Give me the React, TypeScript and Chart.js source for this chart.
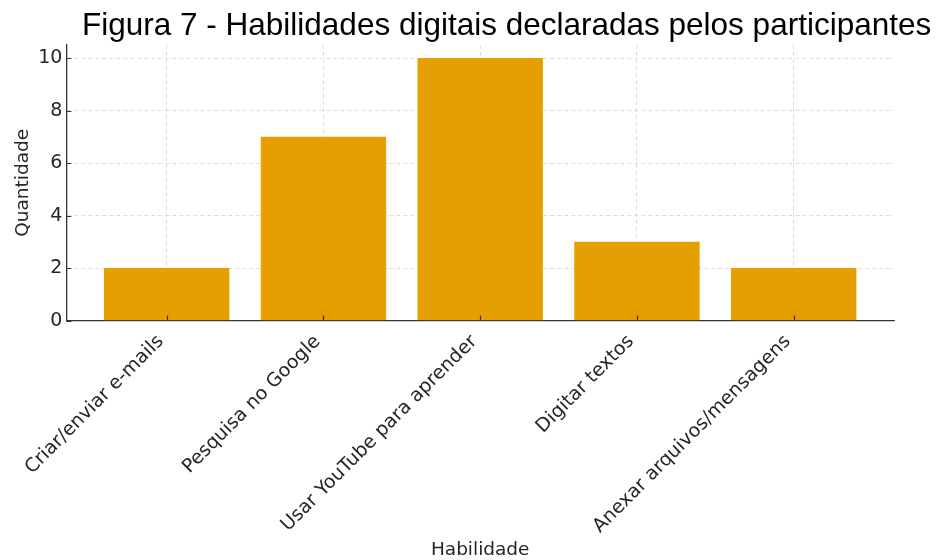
import React, { useEffect, useRef } from "react";
import { Chart, registerables } from "chart.js";

Chart.register(...registerables);

const titleText = "Figura 7 - Habilidades digitais declaradas pelos participantes";
const categories = [
  "Criar/enviar e-mails",
  "Pesquisa no Google",
  "Usar YouTube para aprender",
  "Digitar textos",
  "Anexar arquivos/mensagens",
];
const values = [2, 7, 10, 3, 2];
const yTicks = [0, 2, 4, 6, 8, 10];
const xAxisTitle = "Habilidade";
const yAxisTitle = "Quantidade";

const innerTicks = {
  id: "innerTicks",
  afterDatasetsDraw(chart: any) {
    const { ctx, chartArea, scales } = chart;
    ctx.save();
    ctx.strokeStyle = "#333333";
    ctx.lineWidth = 1.2;
    ctx.beginPath();
    scales.x.ticks.forEach((t: any) => {
      const px = Math.round(scales.x.getPixelForValue(t.value)) + 0.5;
      ctx.moveTo(px, chartArea.bottom);
      ctx.lineTo(px, chartArea.bottom - 5);
    });
    scales.y.ticks.forEach((t: any) => {
      const py = Math.round(scales.y.getPixelForValue(t.value)) + 0.5;
      ctx.moveTo(chartArea.left, py);
      ctx.lineTo(chartArea.left + 5, py);
    });
    ctx.stroke();
    ctx.restore();
  },
};

export default function App() {
  const ref = useRef<HTMLCanvasElement | null>(null);

  useEffect(() => {
    if (!ref.current) return;
    const font = "'DejaVu Sans', sans-serif";
    const textColor = "#262626";
    const chart = new Chart(ref.current, {
      type: "bar",
      data: {
        datasets: [
          {
            data: values.map((v, i) => ({ x: i, y: v })),
            backgroundColor: "#E69F00",
            borderWidth: 0,
            barPercentage: 0.8,
            categoryPercentage: 1,
          },
        ],
      },
      plugins: [innerTicks],
      options: {
        animation: false,
        responsive: false,
        devicePixelRatio: 1,
        layout: { padding: { left: 12, right: 53, top: 45, bottom: -1 } },
        plugins: {
          legend: { display: false },
          title: { display: false },
          tooltip: { enabled: false },
        },
        scales: {
          x: {
            type: "linear",
            offset: false,
            min: -0.64,
            max: categories.length - 1 + 0.64,
            afterBuildTicks: (axis: any) => {
              axis.ticks = categories.map((_, i) => ({ value: i }));
            },
            ticks: {
              autoSkip: false,
              maxRotation: 45,
              minRotation: 45,
              color: textColor,
              font: { family: font, size: 19 },
              padding: 10,
              labelOffset: -6,
              callback: (v: any) => categories[Math.round(Number(v))] ?? "",
            },
            grid: {
              offset: false,
              color: "#d4d4d4",
              lineWidth: 0.8,
              drawTicks: false,
            },
            border: { display: true, color: "#333333", width: 1.3, dash: [4, 3] },
            title: {
              display: true,
              text: xAxisTitle,
              color: textColor,
              font: { family: font, size: 18.5 },
              padding: { top: -9, bottom: 0 },
            },
          },
          y: {
            min: 0,
            max: 10.5,
            afterBuildTicks: (axis: any) => {
              axis.ticks = yTicks.map((v) => ({ value: v }));
            },
            ticks: {
              color: textColor,
              font: { family: font, size: 19 },
              padding: 4,
            },
            grid: {
              color: "#d4d4d4",
              lineWidth: 0.8,
              drawTicks: false,
            },
            border: { display: true, color: "#333333", width: 1.3, dash: [4, 3] },
            title: {
              display: true,
              text: yAxisTitle,
              color: textColor,
              font: { family: font, size: 18.5 },
              padding: { top: 0, bottom: 0 },
            },
          },
        },
      },
    } as any);
    return () => chart.destroy();
  }, []);

  return (
    <div style={{ position: "fixed", left: 0, top: 0, width: 947, height: 560, background: "#fff" }}>
      <canvas ref={ref} width={947} height={560} style={{ display: "block" }} />
      <div
        style={{
          position: "absolute",
          left: 82,
          top: 4,
          fontFamily: "'Liberation Sans', Arial, sans-serif",
          fontSize: 31.5,
          color: "#000",
          whiteSpace: "nowrap",
          lineHeight: "40px",
        }}
      >
        {titleText}
      </div>
    </div>
  );
}
